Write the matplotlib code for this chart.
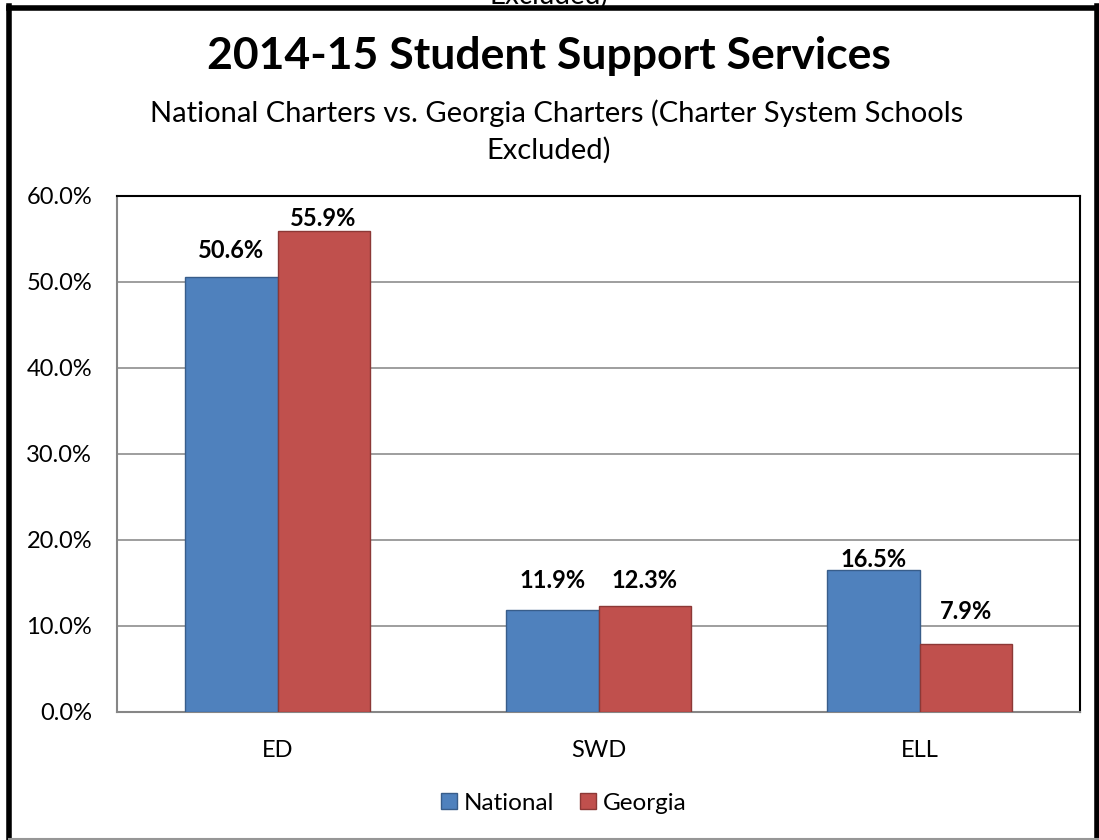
import matplotlib.pyplot as plt
import numpy as np
from matplotlib.lines import Line2D

categories = ['ED', 'SWD', 'ELL']
national = [50.6, 11.9, 16.5]
georgia = [55.9, 12.3, 7.9]
yticks = [0, 10, 20, 30, 40, 50, 60]

# hand-placed label offsets above each bar, in points
national_label_dy = [10.9, 13.0, -1.0]
georgia_label_dy = [1.0, 10.2, 15.2]

plt.rcParams['font.family'] = ['Lato', 'DejaVu Sans']

W, H = 1099, 840
fig = plt.figure(figsize=(W / 100, H / 100), dpi=100)

fig.text(549 / W, 1 + 5 / H, 'Excluded)', ha='center', va='center', fontsize=20)

# outer chart frame: heavy black on three sides, thin grey at the bottom
for (x0, y0, x1, y1, c, lw) in [
    (8.5, 7.5, 1097, 7.5, 'black', 4),
    (8.5, 5.5, 8.5, 840, 'black', 4),
    (1097, 5.5, 1097, 840, 'black', 4),
    (8.5, 839, 1099, 839, '#969696', 1.5),
]:
    fig.add_artist(Line2D([x0 / W, x1 / W], [1 - y0 / H, 1 - y1 / H],
                          transform=fig.transFigure, color=c, linewidth=lw, zorder=5))
    
fig.text(549 / W, 1 - 56 / H, '2014-15 Student Support Services', ha='center', va='center',
         fontsize=32, fontweight='bold')
fig.text(557 / W, 1 - 113 / H, 'National Charters vs. Georgia Charters (Charter System Schools',
         ha='center', va='center', fontsize=21)
fig.text(549 / W, 1 - 150 / H, 'Excluded)', ha='center', va='center', fontsize=21)

ax = fig.add_axes([117 / W, 1 - 712 / H, (1080 - 117) / W, (712 - 196) / H])

x = np.arange(len(categories))
bw = 0.287
b1 = ax.bar(x - bw / 2, national, bw, color='#4F81BD', edgecolor='#385D8A', linewidth=1, label='National', zorder=3)
b2 = ax.bar(x + bw / 2, georgia, bw, color='#C0504D', edgecolor='#8C3836', linewidth=1, label='Georgia', zorder=3)

for bars, vals, dys in ((b1, national, national_label_dy), (b2, georgia, georgia_label_dy)):
    for bar, v, dy in zip(bars, vals, dys):
        ax.annotate(f'{v:.1f}%', (bar.get_x() + bar.get_width() / 2, v),
                    xytext=(0, dy), textcoords='offset points', ha='center', va='bottom',
                    fontsize=17, fontweight='bold', zorder=4)

ax.set_xlim(-0.5, 2.5)
ax.set_ylim(0, 60)
ax.set_yticks(yticks)
ax.set_yticklabels([f'{t:.1f}%' for t in yticks], fontsize=17)
ax.set_xticks(x)
ax.set_xticklabels(categories, fontsize=17)
ax.tick_params(axis='x', length=0, pad=20)
ax.tick_params(axis='y', length=0, pad=18)
ax.yaxis.grid(True, color='#969696', linewidth=1.3, zorder=0)
ax.set_axisbelow(True)

for side in ('top', 'right'):
    ax.spines[side].set_color('black')
    ax.spines[side].set_linewidth(1.5)
for side in ('left', 'bottom'):
    ax.spines[side].set_color('#868686')
    ax.spines[side].set_linewidth(1.5)

ax.legend(loc='center', bbox_to_anchor=(564 / W, 1 - 803 / H), bbox_transform=fig.transFigure,
          ncol=2, frameon=False, fontsize=17.5, handlelength=0.65, handleheight=0.65,
          handletextpad=0.3, columnspacing=1.05, borderpad=0)

fig.savefig('out.png', dpi=100)
